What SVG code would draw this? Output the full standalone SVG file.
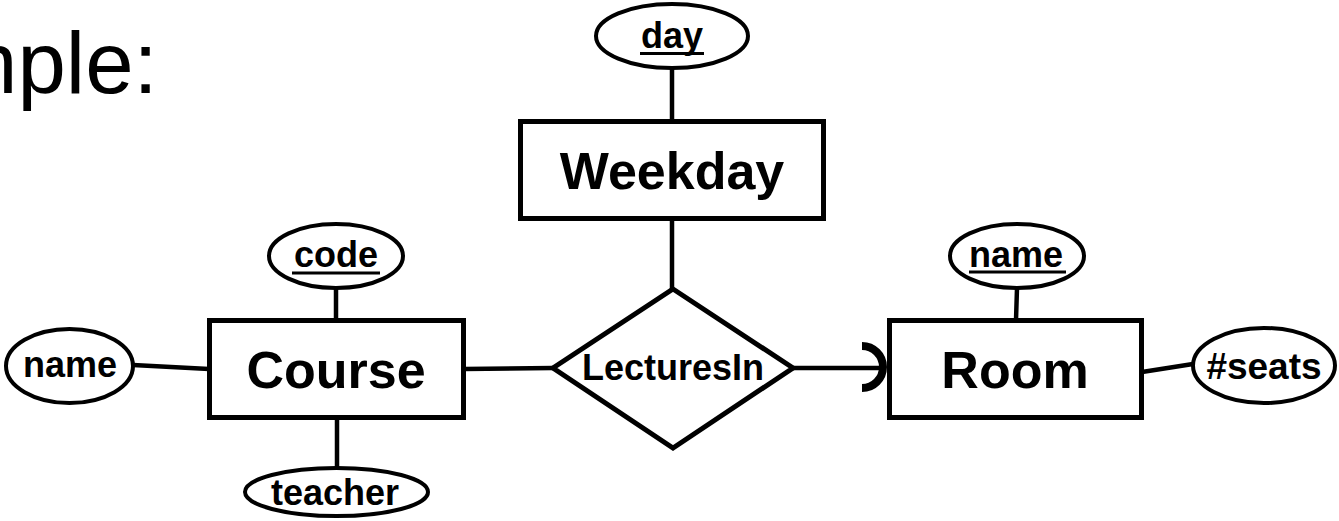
<svg xmlns="http://www.w3.org/2000/svg" width="1339" height="521" viewBox="0 0 1339 521">
<style>
.ent{fill:#fff;stroke:#000;stroke-width:5}
.attr{fill:#fff;stroke:#000;stroke-width:4}
.rel{fill:#fff;stroke:#000;stroke-width:5;stroke-linejoin:miter}
.ln{stroke:#000;stroke-width:4.5;fill:none}
.ul{stroke:#000;stroke-width:3}
.t{font-family:"Liberation Sans",Arial,Helvetica,sans-serif;font-weight:bold;text-anchor:middle;fill:#000}
.big{font-size:52px}
.sm{font-size:36px}
.title{font-family:"Liberation Sans",Arial,Helvetica,sans-serif;font-size:87px;fill:#000}
</style>
<rect width="1339" height="521" fill="#fff"/>
<text class="title" x="-55" y="93">mple:</text>
<g id="connectors">
  <line class="ln" x1="672" y1="68" x2="672" y2="121"/>
  <line class="ln" x1="672" y1="219" x2="672" y2="290"/>
  <line class="ln" x1="336" y1="288" x2="336" y2="320"/>
  <line class="ln" x1="133" y1="365" x2="209" y2="369"/>
  <line class="ln" x1="337" y1="418" x2="337" y2="469"/>
  <line class="ln" x1="464" y1="369" x2="553" y2="368"/>
  <line class="ln" x1="793" y1="368" x2="883" y2="368"/>
  <path d="M862,346 A21,21 0 0 1 862,388" fill="none" stroke="#000" stroke-width="8"/>
  <line class="ln" x1="1017" y1="288" x2="1016" y2="320"/>
  <line class="ln" x1="1142" y1="372" x2="1193" y2="364"/>
</g>
<g id="day">
  <ellipse class="attr" cx="672" cy="36" rx="76" ry="32"/>
  <text class="t sm" x="672" y="48">day</text>
  <line class="ul" x1="640" y1="53.5" x2="704" y2="53.5"/>
</g>
<g id="weekday">
  <rect class="ent" x="520.5" y="121.5" width="303" height="97"/>
  <text class="t big" x="672" y="189">Weekday</text>
</g>
<g id="code">
  <ellipse class="attr" cx="336" cy="256" rx="67" ry="32"/>
  <text class="t sm" x="336" y="267">code</text>
  <line class="ul" x1="292" y1="273" x2="380" y2="273"/>
</g>
<g id="course">
  <rect class="ent" x="209.5" y="320.5" width="254" height="97"/>
  <text class="t big" x="336" y="388">Course</text>
</g>
<g id="course-name">
  <ellipse class="attr" cx="69.5" cy="366" rx="63.5" ry="37"/>
  <text class="t sm" x="70" y="377">name</text>
</g>
<g id="teacher">
  <ellipse class="attr" cx="336.5" cy="492" rx="91.5" ry="24"/>
  <text class="t sm" x="335" y="505">teacher</text>
</g>
<g id="lecturesin">
  <polygon class="rel" points="673,289 793,368 673,448 553,368"/>
  <text class="t sm" x="673" y="380">LecturesIn</text>
</g>
<g id="room">
  <rect class="ent" x="889.5" y="320.5" width="252" height="97"/>
  <text class="t big" x="1015" y="388">Room</text>
</g>
<g id="room-name">
  <ellipse class="attr" cx="1017" cy="256" rx="67" ry="32"/>
  <text class="t sm" x="1016" y="267">name</text>
  <line class="ul" x1="969" y1="272" x2="1066" y2="272"/>
</g>
<g id="seats">
  <ellipse class="attr" cx="1264" cy="365.5" rx="71" ry="37.5"/>
  <text class="t" x="1264" y="379" font-size="37">#seats</text>
</g>
</svg>
